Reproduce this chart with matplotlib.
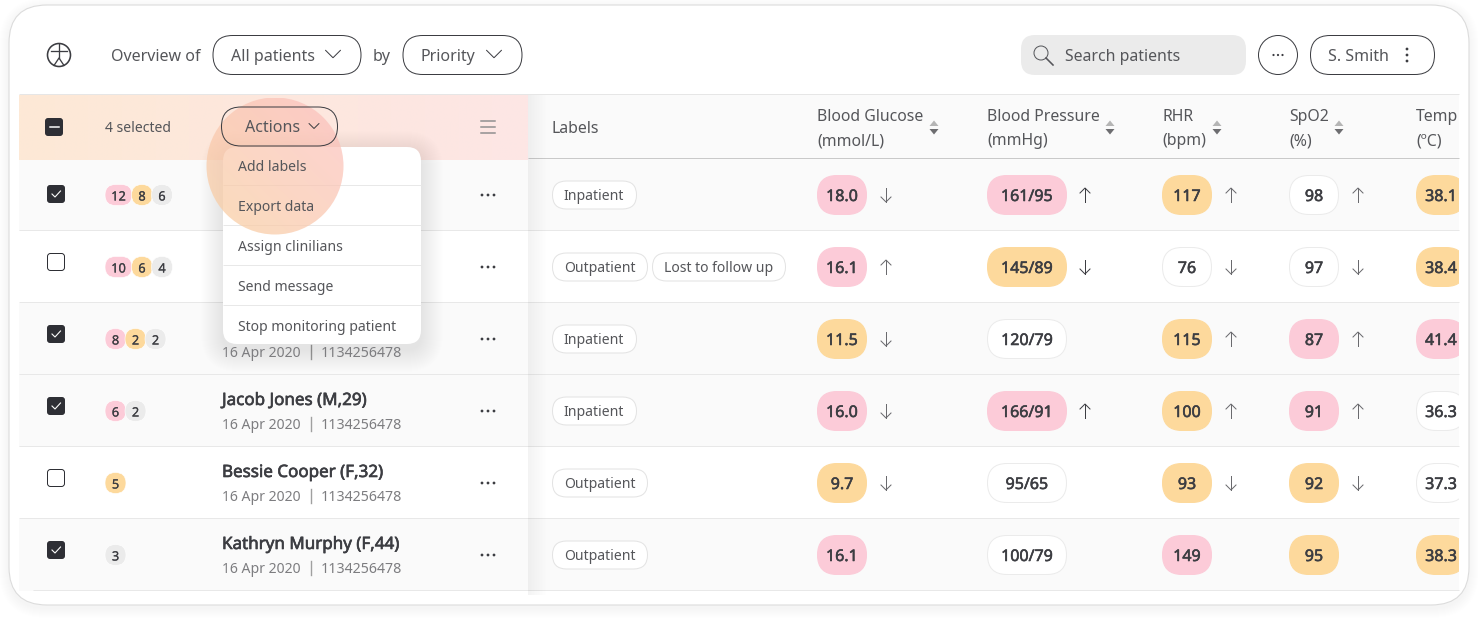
import numpy as np
import matplotlib
matplotlib.use("Agg")
import matplotlib.pyplot as plt
import matplotlib.patheffects as pe
from matplotlib.patches import FancyBboxPatch, Circle, Rectangle, Polygon

plt.rcParams['font.family'] = ['Noto Sans', 'DejaVu Sans']

# ---------- data ----------
columns = ["Blood Glucose", "Blood Pressure", "RHR", "SpO2", "Temp"]
units = ["(mmol/L)", "(mmHg)", "(bpm)", "(%)", "(ºC)"]
glucose = ["18.0", "16.1", "11.5", "16.0", "9.7", "16.1"]
pressure = ["161/95", "145/89", "120/79", "166/91", "95/65", "100/79"]
rhr = ["117", "76", "115", "100", "93", "149"]
spo2 = ["98", "97", "87", "91", "92", "95"]
temp = ["38.1", "38.4", "41.4", "36.3", "37.3", "38.3"]
glucose_lvl = "PPOPOP"
pressure_lvl = "POWPWW"
rhr_lvl = "OWOOOP"
spo2_lvl = "WWPPOO"
temp_lvl = "OOPWWO"
glucose_trend = "dudddn"
pressure_trend = "udnunn"
rhr_trend = "uduudn"
spo2_trend = "uduudn"
selected = [True, False, True, True, False, True]
badges = [[("12", "P"), ("8", "O"), ("6", "G")],
          [("10", "P"), ("6", "O"), ("4", "G")],
          [("8", "P"), ("2", "O"), ("2", "G")],
          [("6", "P"), ("2", "G")],
          [("5", "O")],
          [("3", "G")]]
labels = [["Inpatient"], ["Outpatient", "Lost to follow up"], ["Inpatient"],
          ["Inpatient"], ["Outpatient"], ["Outpatient"]]
names = [None, None, None, "Jacob Jones (M,29)", "Bessie Cooper (F,32)", "Kathryn Murphy (F,44)"]
dates = [None, None, "16 Apr 2020", "16 Apr 2020", "16 Apr 2020", "16 Apr 2020"]
ids = [None, None, "1134256478", "1134256478", "1134256478", "1134256478"]
menu_items = ["Add labels", "Export data", "Assign clinilians", "Send message", "Stop monitoring patient"]

# ---------- palette ----------
PINK, ORANGE, GREY = "#fccbd8", "#fdd99c", "#ebebeb"
LEVEL = {"P": PINK, "O": ORANGE, "G": GREY, "W": "#ffffff"}
INK, MID, SOFT, LINE = "#3c3d42", "#55565a", "#7d7d80", "#e8e8e8"
DARK = "#2e2f35"

fig = plt.figure(figsize=(14.78, 6.18), dpi=100)
ax = fig.add_axes([0, 0, 1, 1])
ax.set_axis_off()
W, H = 1478, 618


def px(v):
    return v * 0.72


def rbox(x0, y0, x1, y1, r, fc="none", ec="none", lw=1.0, z=2, alpha=None):
    p = FancyBboxPatch((x0, y0), x1 - x0, y1 - y0,
                       boxstyle=f"round,pad=0,rounding_size={r}",
                       fc=fc, ec=ec, lw=px(lw), zorder=z, alpha=alpha)
    ax.add_patch(p)
    return p


def txt(x, y, s, size=15, color=INK, ha="left", semi=0.0, z=10):
    t = ax.text(x, y, s, fontsize=px(size), color=color, ha=ha, va="center_baseline", zorder=z)
    if semi:
        t.set_path_effects([pe.withStroke(linewidth=semi, foreground=color)])
    return t


def shadow(x0, y0, x1, y1, r, spread=16, dy=4, a=0.006, z=1):
    for i in range(spread, 0, -1):
        rbox(x0 - i, y0 - i + dy, x1 + i, y1 + i + dy, r + i, fc="#000000", z=z, alpha=a)


def gradient(x0, y0, x1, y1, c0, c1, a0=1.0, a1=1.0, angle=0.0, z=2):
    n = 128
    xx, yy = np.meshgrid(np.linspace(0, 1, n), np.linspace(0, 1, n))
    t = (np.cos(angle) * xx + np.sin(angle) * yy)
    t = (t - t.min()) / (t.max() - t.min())
    c0 = np.array(matplotlib.colors.to_rgb(c0))
    c1 = np.array(matplotlib.colors.to_rgb(c1))
    img = np.zeros((n, n, 4))
    for k in range(3):
        img[..., k] = c0[k] + (c1[k] - c0[k]) * t
    img[..., 3] = a0 + (a1 - a0) * t
    return ax.imshow(img, extent=(x0, x1, y1, y0), origin="upper", aspect="auto",
                     zorder=z, interpolation="bilinear")


def hline(x0, x1, y, color=LINE, lw=1.0, z=3):
    ax.plot([x0, x1], [y - 0.6, y - 0.6], color=color, lw=px(lw), zorder=z, solid_capstyle="butt")


def chevron(x, y, w=15, h=7.5, color=INK, lw=1.0, z=10):
    ax.plot([x - w / 2, x, x + w / 2], [y - h / 2, y + h / 2, y - h / 2], color=color,
            lw=px(lw), zorder=z, solid_capstyle="round", solid_joinstyle="miter")


def arrow(x, y, up, color=INK, z=10):
    s = -1 if up else 1
    ax.plot([x, x], [y - 7, y + 7], color=color, lw=px(1.0), zorder=z)
    ax.plot([x - 5, x, x + 5], [y + s * 2, y + s * 7, y + s * 2], color=color, lw=px(1.0),
            zorder=z, solid_joinstyle="miter")


def dots(x, y, color=INK, gap=6, r=1.4, z=10, vertical=False):
    for k in (-1, 0, 1):
        c = (x, y + k * gap) if vertical else (x + k * gap, y)
        ax.add_patch(Circle(c, r, fc=color, ec="none", zorder=z))


# ---------- card ----------
shadow(9, 5, 1469, 605, 38, spread=10, dy=3, a=0.005, z=0)
card = rbox(9, 5, 1469, 605, 38, fc="#ffffff", ec="#dcdcdc", lw=1.1, z=1)

# ---------- top bar ----------
ax.add_patch(Circle((59, 55), 11.5, fc="none", ec=INK, lw=px(1.6), zorder=10))
ax.plot([51, 67], [51, 51], color=INK, lw=px(1.3), zorder=10)
ax.plot([59, 59], [44, 58], color=INK, lw=px(1.3), zorder=10)
ax.plot([54, 59, 64], [65.5, 58, 65.5], color=INK, lw=px(1.3), zorder=10)

txt(111, 55, "Overview of", 16, MID)
rbox(213, 35.5, 361, 74.5, 19.5, fc="#ffffff", ec=INK, lw=1.0, z=5)
txt(231, 55, "All patients", 16, MID)
chevron(333, 54)
txt(373, 55, "by", 16, MID)
rbox(403, 35.5, 522, 74.5, 19.5, fc="#ffffff", ec=INK, lw=1.0, z=5)
txt(421, 55, "Priority", 16, MID)
chevron(494, 54)

rbox(1021, 35, 1246, 75, 14, fc=GREY, z=5)
ax.add_patch(Circle((1041, 53), 7, fc="none", ec=MID, lw=px(1.0), zorder=10))
ax.plot([1046, 1053], [58, 65], color=MID, lw=px(1.6), zorder=10)
txt(1065, 55, "Search patients", 15.8, MID)
ax.add_patch(Circle((1278, 55), 19.5, fc="#ffffff", ec=INK, lw=px(1.0), zorder=5))
dots(1278, 55, gap=4.5, r=1.1)
rbox(1310.5, 35.5, 1434.5, 74.5, 19.5, fc="#ffffff", ec=INK, lw=1.0, z=5)
txt(1328, 55, "S. Smith", 16, MID)
dots(1407, 55, gap=6, r=1.4, vertical=True)

# ---------- table backgrounds ----------
row_y = [195, 267, 339, 411, 483, 555]
ROW_H = 72
ax.add_patch(Rectangle((528, 95), 931, 64, fc="#fafafa", ec="none", zorder=2))
hline(19, 1459, 95, "#e6e6e6", z=3)
gradient(19, 95, 528, 160, "#fde9d6", "#fde6e5", z=3)
hline(528, 1459, 159, "#c9c9c9", z=4)
for yc, sel in zip(row_y, selected):
    ax.add_patch(Rectangle((19, yc - 36), 1440, ROW_H, fc="#fafafa" if sel else "#ffffff",
                           ec="none", zorder=2))
    hline(19 if yc < 550 else 33, 1459, yc + 36)
gradient(528, 95, 548, 595, "#000000", "#000000", a0=0.05, a1=0.0, z=4)

# ---------- header row ----------
rbox(45, 118, 63, 136, 3, fc=DARK, z=6)
ax.plot([49.5, 58.5], [127, 127], color="#ffffff", lw=px(1.5), zorder=7)
txt(105, 127, "4 selected", 14, MID)
for dy in (-6, 0, 6):
    ax.plot([481, 495], [127 + dy, 127 + dy], color="#8e8e8e", lw=px(1.5), zorder=6)
txt(551.5, 127, "Labels", 15.8, MID)

col_x = [817, 987, 1162, 1289, 1416]
caret_x = [934, 1110, 1217, 1339]
clip = Rectangle((0, 0), 1459, H, transform=ax.transData)
for name, unit, x in zip(columns, units, col_x):
    a = txt(x, 115, name, 15.8, MID)
    b = txt(x, 139, unit, 15.8, MID)
    a.set_clip_path(clip)
    b.set_clip_path(clip)
for x in caret_x:
    ax.add_patch(Polygon([(x - 4.5, 126), (x + 4.5, 126), (x, 120.5)], fc="#b5b5b5", ec="none", zorder=6))
    ax.add_patch(Polygon([(x - 4.5, 129), (x + 4.5, 129), (x, 134.5)], fc="#6d6d70", ec="none", zorder=6))

# ---------- rows ----------
check_offset = [-1, -5, -5, -5, -5, -5]
for i, yc in enumerate(row_y):
    cy = yc + check_offset[i]
    if selected[i]:
        rbox(47, cy - 9, 65, cy + 9, 3, fc=DARK, z=6)
        ax.plot([52, 55, 60.5], [cy, cy + 3, cy - 3], color="#ffffff", lw=px(1.1), zorder=7)
    else:
        rbox(47.5, cy - 8.5, 64.5, cy + 8.5, 3, fc="#ffffff", ec=DARK, lw=1.0, z=6)

    x = 105
    for s, lvl in badges[i]:
        w = 27 if len(s) == 2 else 21
        rbox(x, yc - 10.5, x + w, yc + 10.5, 10.5, fc=LEVEL[lvl], ec="#ffffff", lw=0.6, z=6)
        txt(x + w / 2, yc + 0.5, s, 12.8, INK, ha="center", semi=0.15)
        x += w - 0.5 if len(s) == 2 else w - 1

    if names[i]:
        txt(222, yc - 12, names[i], 17, INK, semi=0.45)
    if dates[i]:
        txt(222, yc + 12.6, dates[i], 14, SOFT)
        ax.plot([311, 311], [yc + 6, yc + 20], color="#a0a0a0", lw=px(1.4), zorder=6)
        txt(321, yc + 12.6, ids[i], 14.2, SOFT)

    dots(488, yc, gap=6, r=1.4)

    lx = 552
    for s in labels[i]:
        w = {"Inpatient": 85, "Outpatient": 96, "Lost to follow up": 134}[s]
        rbox(lx + 0.5, yc - 14, lx + w - 0.5, yc + 14, 14, fc="#ffffff", ec="#e3e3e3", lw=1.0, z=6)
        txt(lx + w / 2 - 0.5, yc, s, 14, MID, ha="center")
        lx += w + 4

    rows = [(glucose, glucose_lvl, glucose_trend, 817, 50, 886),
            (pressure, pressure_lvl, pressure_trend, 987, 80, 1085),
            (rhr, rhr_lvl, rhr_trend, 1162, 50, 1231),
            (spo2, spo2_lvl, spo2_trend, 1289, 50, 1358),
            (temp, temp_lvl, "nnnnnn", 1416, 50, 0)]
    for vals, lvls, trends, x0, w, ax_x in rows:
        lvl = lvls[i]
        p = rbox(x0 + 0.5, yc - 19.5, x0 + w - 0.5, yc + 19.5, 19.5, fc=LEVEL[lvl],
                 ec="#ebebeb" if lvl == "W" else LEVEL[lvl], lw=1.0, z=6)
        p.set_clip_path(clip)
        t = txt(x0 + w / 2, yc, vals[i], 16, INK, ha="center", semi=0.4)
        t.set_clip_path(clip)
        if trends[i] != "n":
            arrow(ax_x, yc, trends[i] == "u", color=INK if x0 == 987 else "#6a6a6e")

# ---------- actions and menu ----------
shadow(223, 147, 421, 344, 16, spread=22, dy=6, a=0.004, z=7)
rbox(223, 147, 421, 344, 14, fc="#ffffff", z=8)
for y in (185.6, 225.6, 265.6, 305.6):
    hline(223, 421, y, "#e8e8e8", z=9)

halo = gradient(204, 98, 344, 236, "#f9cf9e", "#fcbfc0", a0=0.72, a1=0.72, angle=-np.pi / 4, z=9)
halo.set_clip_path(Circle((275, 166), 68.5, transform=ax.transData))

rbox(221.5, 107, 337.5, 146, 19.5, fc="none", ec=INK, lw=1.0, z=10)
txt(245, 126.5, "Actions", 16, MID, z=11)
chevron(314, 126, w=10, h=5, z=11)
for y, s in zip((165.6, 205.6, 245.6, 285.6, 325.6), menu_items):
    txt(238, y, s, 14, MID, z=11)

ax.set_xlim(0, W)
ax.set_ylim(H, 0)
fig.savefig("out.png", dpi=100)
